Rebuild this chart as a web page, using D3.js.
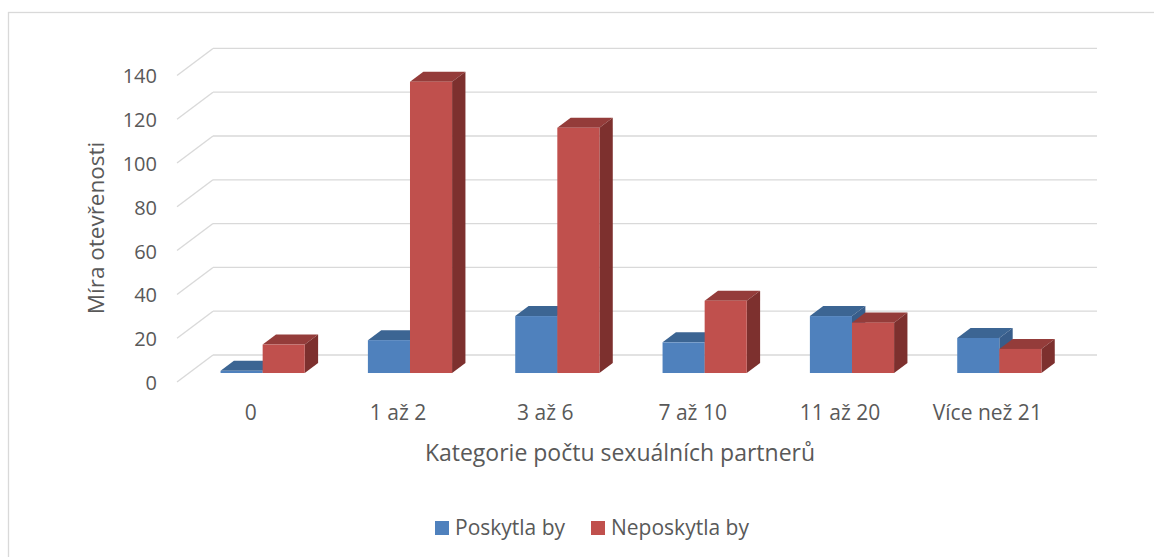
<!DOCTYPE html>
<meta charset="utf-8">
<style>
    body {
        margin: 0;
        background-color: #ffffff;
    }

    svg text {
        font-family: "Open Sans";
        fill: #595959;
    }

    .axis path,
    .axis line {
        display: none;
    }

    .grid line {
        stroke: #d9d9d9;
        stroke-width: 1.3px;
    }
</style>

<body>
    <svg width="1154" height="557"></svg>
    <script src="https://cdnjs.cloudflare.com/ajax/libs/d3/7.8.5/d3.min.js"></script>
    <script>
        // data
        var categories = ["0", "1 až 2", "3 až 6", "7 až 10", "11 až 20", "Více než 21"];
        var seriesNames = ["Poskytla by", "Neposkytla by"];
        var poskytla = [1, 15, 26, 14, 26, 16];
        var neposkytla = [13, 133, 112, 33, 23, 11];
        var yTicks = [0, 20, 40, 60, 80, 100, 120, 140];

        var colors = {
            "Poskytla by": { front: "#4f81bd", top: "#3c6593", side: "#385d8a" },
            "Neposkytla by": { front: "#c0504d", top: "#943c3a", side: "#7d302e" }
        };

        var svg = d3.select("svg");

        // chart frame
        svg.append("rect")
            .attr("x", 8.5).attr("y", 12.5)
            .attr("width", 1200).attr("height", 600)
            .attr("fill", "none")
            .attr("stroke", "#d9d9d9")
            .attr("stroke-width", 1.3);

        // back wall scales, plus an oblique depth vector (back -> front)
        var depth = { dx: -36, dy: 27 };
        var x = d3.scaleBand().domain(categories).range([213, 1097]);
        var xs = d3.scaleBand().domain(seriesNames).range([0, x.bandwidth()]).paddingOuter(0.75);
        var y = d3.scaleLinear().domain([0, 140]).range([355, 48.4]);

        // gridlines on back wall + left side wall
        var grid = svg.append("g").attr("class", "grid");
        grid.selectAll(".h").data(yTicks).enter().append("line")
            .attr("x1", x.range()[0]).attr("x2", x.range()[1])
            .attr("y1", function(d) { return y(d); })
            .attr("y2", function(d) { return y(d); });
        grid.selectAll(".d").data(yTicks).enter().append("line")
            .attr("x1", x.range()[0]).attr("x2", x.range()[0] + depth.dx)
            .attr("y1", function(d) { return y(d); })
            .attr("y2", function(d) { return y(d) + depth.dy; });

        // y axis labels at the front edge
        svg.append("g")
            .attr("class", "axis y")
            .attr("transform", "translate(" + (x.range()[0] + depth.dx - 20) + "," + (depth.dy + 1) + ")")
            .call(d3.axisLeft(y).tickValues(yTicks).tickSize(0).tickPadding(0))
            .selectAll("text")
            .style("font-size", "20px");

        // x axis labels on the front plane
        svg.append("g")
            .attr("class", "axis x")
            .attr("transform", "translate(" + depth.dx + ",405)")
            .call(d3.axisBottom(x).tickSize(0).tickPadding(0))
            .selectAll("text")
            .style("font-size", "21px");
        svg.selectAll(".axis text").attr("font-family", null);

        // bars: front at 2/3 of depth, back at ~0.3
        var tf = 0.667, tb = 0.296;
        var fx = depth.dx * tf, fy = depth.dy * tf;
        var bx = depth.dx * tb, by = depth.dy * tb;

        var rows = [];
        categories.forEach(function(c, i) {
            rows.push({ cat: c, series: seriesNames[0], value: poskytla[i] });
            rows.push({ cat: c, series: seriesNames[1], value: neposkytla[i] });
        });

        var bars = svg.append("g").selectAll("g.bar")
            .data(rows)
            .enter().append("g").attr("class", "bar");

        function pts(arr) {
            return arr.map(function(p) { return p.join(","); }).join(" ");
        }

        bars.each(function(d) {
            var g = d3.select(this);
            var x0 = x(d.cat) + xs(d.series), x1 = x0 + xs.bandwidth();
            var yt = y(d.value), y0 = y(0);
            var c = colors[d.series];
            g.append("polygon")
                .attr("points", pts([[x0 + fx, yt + fy], [x1 + fx, yt + fy], [x1 + bx, yt + by], [x0 + bx, yt + by]]))
                .attr("fill", c.top);
            g.append("polygon")
                .attr("points", pts([[x1 + fx, yt + fy], [x1 + bx, yt + by], [x1 + bx, y0 + by], [x1 + fx, y0 + fy]]))
                .attr("fill", c.side);
            g.append("rect")
                .attr("x", x0 + fx).attr("y", yt + fy)
                .attr("width", x1 - x0).attr("height", y0 - yt)
                .attr("fill", c.front);
        });

        // axis titles
        svg.append("text")
            .attr("transform", "translate(104,228) rotate(-90)")
            .attr("text-anchor", "middle")
            .style("font-size", "22.5px")
            .text("Míra otevřenosti");

        svg.append("text")
            .attr("x", 620).attr("y", 461)
            .attr("text-anchor", "middle")
            .style("font-size", "23px")
            .text("Kategorie počtu sexuálních partnerů");

        // legend
        var legendX = [435, 591];
        var legend = svg.append("g").selectAll("g")
            .data(seriesNames)
            .enter().append("g")
            .attr("transform", function(d, i) { return "translate(" + legendX[i] + ",521)"; });
        legend.append("rect")
            .attr("width", 14).attr("height", 14)
            .attr("fill", function(d) { return colors[d].front; });
        legend.append("text")
            .attr("x", 20).attr("y", 14)
            .style("font-size", "21px")
            .text(function(d) { return d; });
    </script>
</body>
